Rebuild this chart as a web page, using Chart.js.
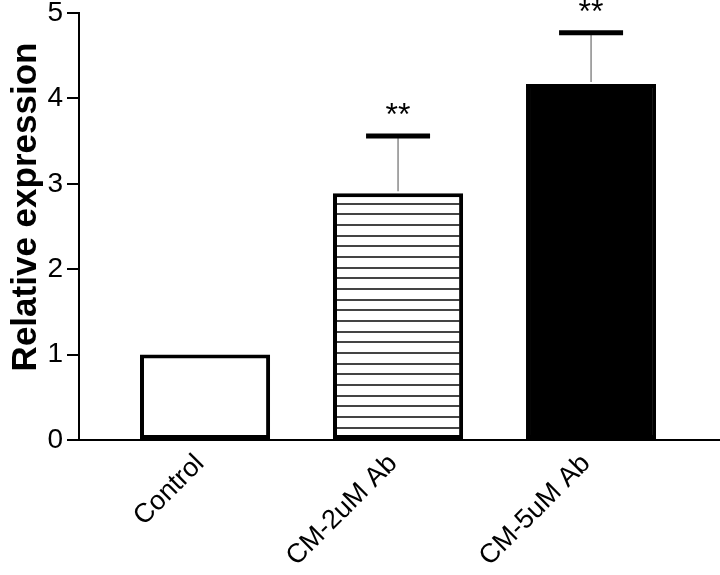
<!DOCTYPE html>
<html>
<head>
<meta charset="utf-8">
<script src="https://cdn.jsdelivr.net/npm/chart.js@4"></script>
<style>
  html, body { margin: 0; padding: 0; background: #fff; }
  #wrap { width: 720px; height: 575px; }
</style>
</head>
<body>
<div id="wrap"><canvas id="chart" width="720" height="575"></canvas></div>
<script>
// Values
const categories = ['Control', 'CM-2uM Ab', 'CM-5uM Ab'];
const means = [1, 2.89, 4.17];
const errUp = [0, 0.67, 0.6];
const marks = ['', '**', '**'];
const yTicks = [0, 1, 2, 3, 4, 5];

// horizontal stripes for the middle bar
function stripePattern() {
    const c = document.createElement('canvas');
    c.width = 8;
    c.height = 32;
    const g = c.getContext('2d');
    g.fillStyle = '#fff';
    g.fillRect(0, 0, 8, 32);
    g.fillStyle = '#444';
    [0, 11, 21].forEach(y => g.fillRect(0, y, 8, 2));
    return g.createPattern(c, 'repeat');
}

// error bars + significance stars + y title
const errorBarPlugin = {
    id: 'errorBars',
    afterDatasetsDraw(chart) {
        const ctx = chart.ctx;
        const xs = chart.scales.x, ys = chart.scales.y;
        ctx.save();
        means.forEach((m, i) => {
            const x = xs.getPixelForValue(i);
            const yTop = ys.getPixelForValue(m);
            const yCap = ys.getPixelForValue(m + errUp[i]);
            if (errUp[i] > 0) {
                ctx.strokeStyle = '#8a8a8a';
                ctx.lineWidth = 1.5;
                ctx.beginPath();
                ctx.moveTo(x, yTop - 2);
                ctx.lineTo(x, yCap);
                ctx.stroke();
                ctx.strokeStyle = '#000';
                ctx.lineWidth = 5;
                ctx.beginPath();
                ctx.moveTo(x - 32, yCap);
                ctx.lineTo(x + 32, yCap);
                ctx.stroke();
            }
            if (marks[i]) {
                ctx.fillStyle = '#000';
                ctx.font = '32px "Liberation Sans", Arial, sans-serif';
                ctx.textAlign = 'center';
                ctx.textBaseline = 'alphabetic';
                ctx.fillText(marks[i], x, yCap - 11);
            }
        });
        ctx.translate(36, 207);
        ctx.rotate(-Math.PI / 2);
        ctx.fillStyle = '#000';
        ctx.font = 'bold 35px "Liberation Sans", Arial, sans-serif';
        ctx.textAlign = 'center';
        ctx.textBaseline = 'alphabetic';
        ctx.fillText('Relative expression', 0, 0);
        ctx.restore();
    }
};

const ctx = document.getElementById('chart').getContext('2d');
new Chart(ctx, {
    type: 'bar',
    data: {
        datasets: [{
            data: means.map((m, i) => ({ x: i, y: m })),
            backgroundColor: ['#ffffff', stripePattern(), '#000000'],
            borderColor: '#000',
            borderWidth: 4,
            borderSkipped: false,
            barPercentage: 1,
            categoryPercentage: 0.674
        }]
    },
    options: {
        responsive: false,
        animation: false,
        layout: { padding: { left: 0, top: 13, right: 0, bottom: 0 } },
        plugins: { legend: { display: false }, tooltip: { enabled: false } },
        scales: {
            x: {
                type: 'linear',
                offset: false,
                min: -0.653,
                max: 2.668,
                grid: { display: true, drawOnChartArea: false, drawTicks: false },
                border: { display: true, color: '#000', width: 2 },
                afterBuildTicks: s => { s.ticks = categories.map((c, i) => ({ value: i })); },
                afterFit: s => {
                    s.height = 135;
                    s.paddingLeft = 0;
                    s.paddingRight = 0;
                },
                ticks: {
                    autoSkip: false,
                    minRotation: 45,
                    maxRotation: 45,
                    padding: 8,
                    labelOffset: -5,
                    color: '#000',
                    font: { size: 27, family: '"Liberation Sans", Arial, sans-serif' },
                    callback: v => categories[v] ?? ''
                }
            },
            y: {
                min: 0,
                max: 5,
                afterBuildTicks: s => { s.ticks = yTicks.map(v => ({ value: v })); },
                afterFit: s => {
                    s.width = 79;
                    s.paddingTop = 0;
                    s.paddingBottom = 0;
                },
                grid: { drawOnChartArea: false, tickLength: 12, color: '#000', lineWidth: 2 },
                border: { color: '#000', width: 2 },
                ticks: {
                    padding: 4,
                    color: '#000',
                    font: { size: 28, family: '"Liberation Sans", Arial, sans-serif' }
                }
            }
        }
    },
    plugins: [errorBarPlugin]
});
</script>
</body>
</html>
